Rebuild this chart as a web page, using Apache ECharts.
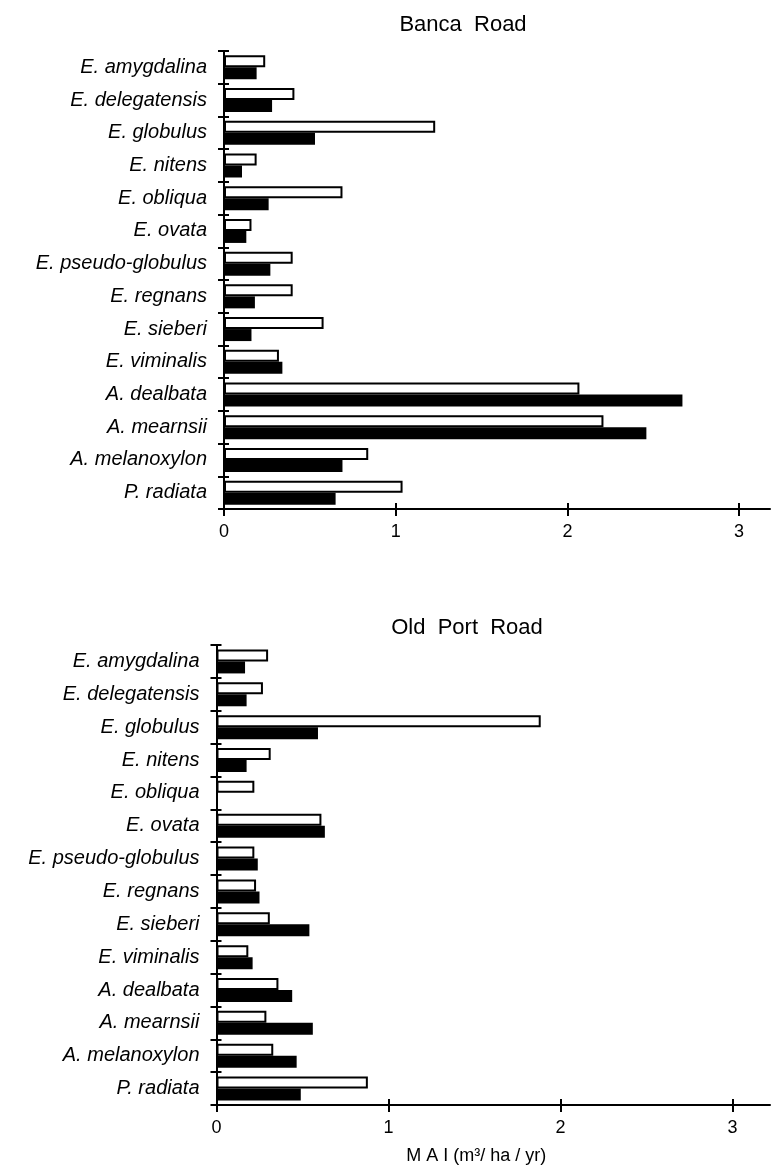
<!DOCTYPE html>
<html><head><meta charset="utf-8">
<script src="https://cdn.jsdelivr.net/npm/echarts@6/dist/echarts.min.js"></script>
<style>html,body{margin:0;padding:0;background:#fff}#c{width:771px;height:1166px}</style>
</head><body><div id="c"></div>
<script>
const species = ['E. amygdalina','E. delegatensis','E. globulus','E. nitens','E. obliqua','E. ovata','E. pseudo-globulus','E. regnans','E. sieberi','E. viminalis','A. dealbata','A. mearnsii','A. melanoxylon','P. radiata'];
const bancaOpen   = [0.24, 0.41, 1.23, 0.19, 0.69, 0.16, 0.40, 0.40, 0.58, 0.32, 2.07, 2.21, 0.84, 1.04];
const bancaFilled = [0.19, 0.28, 0.53, 0.105, 0.26, 0.13, 0.27, 0.18, 0.16, 0.34, 2.67, 2.46, 0.69, 0.65];
const oldPortOpen   = [0.30, 0.27, 1.885, 0.315, 0.22, 0.61, 0.22, 0.23, 0.31, 0.185, 0.36, 0.29, 0.33, 0.88];
const oldPortFilled = [0.166, 0.175, 0.59, 0.175, 0, 0.63, 0.24, 0.25, 0.54, 0.21, 0.44, 0.56, 0.466, 0.49];
const xTicks = [0, 1, 2, 3];
const titles = ['Banca  Road', 'Old  Port  Road'];
const xName = 'M A I (m³/ ha / yr)';

const FONT = 'Liberation Sans';
const grids = [
  {left: 224, top: 51, width: 546, height: 458, max: 3.18},
  {left: 216.5, top: 645, width: 553.5, height: 460, max: 3.218}
];

function mainX(i, g) {
  return {
    type: 'value', gridIndex: i, position: 'bottom', min: 0, max: g.max,
    axisLine: {show: true, lineStyle: {color: '#000', width: 2}},
    axisTick: {show: true, inside: false, length: 7, lineStyle: {color: '#000', width: 2}, customValues: xTicks},
    axisLabel: {show: true, margin: 14, color: '#000', fontFamily: FONT, fontSize: 18, customValues: xTicks,
      formatter: v => Number.isInteger(v) ? String(v) : ''},
    splitLine: {show: false},
    name: i === 1 ? xName : '', nameLocation: 'middle', nameGap: 42,
    nameTextStyle: {color: '#000', fontFamily: FONT, fontSize: 18, padding: [0, 34, 0, 0]}
  };
}
function overlayX(i, g) {
  return {
    type: 'value', gridIndex: i, position: 'bottom', min: 0, max: g.max,
    axisLine: {show: false},
    axisTick: {show: true, inside: true, length: 6, lineStyle: {color: '#000', width: 2}, customValues: xTicks},
    axisLabel: {show: false}, splitLine: {show: false}
  };
}
function mainY(i) {
  return {
    type: 'category', gridIndex: i, data: species, inverse: true, position: 'left',
    axisLine: {show: true, lineStyle: {color: '#000', width: 2}},
    axisTick: {show: true, inside: false, length: 6, lineStyle: {color: '#000', width: 2}},
    axisLabel: {show: true, margin: 17, color: '#000', fontFamily: FONT, fontSize: 20, fontStyle: 'italic'}
  };
}
function overlayY(i) {
  return {
    type: 'category', gridIndex: i, data: species, inverse: true, position: 'left',
    axisLine: {show: false},
    axisTick: {show: true, inside: true, length: 5, lineStyle: {color: '#000', width: 2}},
    axisLabel: {show: false}
  };
}

const openStyle = {color: '#fff', borderColor: '#000', borderWidth: 2};
const filledStyle = {color: '#000', borderColor: '#000', borderWidth: 0};

function barSeries(name, data, axisIdx, style) {
  return {
    type: 'bar', name, data, xAxisIndex: axisIdx, yAxisIndex: axisIdx,
    barWidth: 12, barGap: '0%', itemStyle: style, silent: true, animation: false
  };
}

const option = {
  backgroundColor: '#fff',
  animation: false,
  title: [
    {text: titles[0], left: 458, top: 9, textAlign: 'center',
     textStyle: {color: '#000', fontFamily: FONT, fontSize: 22, fontWeight: 'normal'}},
    {text: titles[1], left: 462, top: 612, textAlign: 'center',
     textStyle: {color: '#000', fontFamily: FONT, fontSize: 22, fontWeight: 'normal'}}
  ],
  grid: grids.map(g => ({left: g.left, top: g.top, width: g.width, height: g.height, containLabel: false, outerBoundsMode: 'none'})),
  xAxis: [mainX(0, grids[0]), overlayX(0, grids[0]), mainX(1, grids[1]), overlayX(1, grids[1])],
  yAxis: [mainY(0), overlayY(0), mainY(1), overlayY(1)],
  series: [
    barSeries('Banca open', bancaOpen, 0, openStyle),
    barSeries('Banca filled', bancaFilled, 0, filledStyle),
    barSeries('Old Port open', oldPortOpen, 2, openStyle),
    barSeries('Old Port filled', oldPortFilled, 2, filledStyle)
  ]
};
const chart = echarts.init(document.getElementById('c'), null, {renderer: 'canvas'});
chart.setOption(option);
</script>
</body></html>
